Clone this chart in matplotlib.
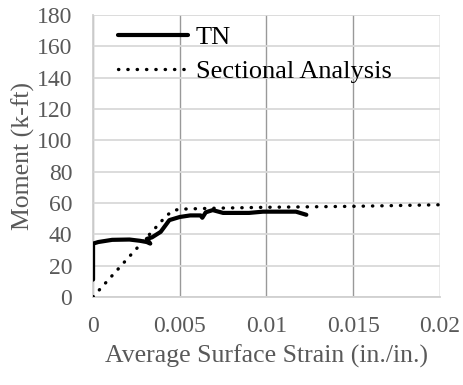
import numpy as np
import matplotlib.pyplot as plt

plt.rcParams['font.family'] = ['Liberation Serif', 'DejaVu Serif']

# TN test curve
tn_strain = [0.0, 0.0, 0.0003, 0.0011, 0.0021, 0.0027, 0.0031, 0.0033, 0.0031, 0.0034,
             0.0039, 0.0044, 0.0050, 0.0056, 0.0062, 0.0063, 0.0065, 0.0069, 0.0075,
             0.0090, 0.0098, 0.0117, 0.0123]
tn_moment = [11, 34, 35, 36.4, 36.6, 35.8, 35.0, 34.0, 37.0, 38.0,
             41.5, 49, 51, 52, 52, 50.5, 54, 55.4, 53.6,
             53.6, 54.4, 54.4, 52.4]

# Sectional analysis curve
sa_strain = [0.0, 0.001, 0.002, 0.003, 0.0038, 0.0042, 0.0046, 0.005, 0.007, 0.01, 0.015, 0.02]
sa_moment = [0.0, 12.3, 24.6, 36.8, 46.5, 51.5, 55.0, 56.0, 56.6, 57.2, 57.8, 58.8]

gray = '#595959'

fig = plt.figure(figsize=(4.63, 3.85), dpi=100)
ax = fig.add_axes([0.201, 0.229, 0.749, 0.732])

ax.plot(tn_strain, tn_moment, color='black', lw=3, solid_capstyle='round',
        solid_joinstyle='round', label='TN', zorder=3)
ax.plot(sa_strain, sa_moment, color='black', lw=2.4, linestyle=(0, (0.1, 2.7)),
        dash_capstyle='round', label='Sectional Analysis', zorder=3)

ax.set_xlim(0, 0.02)
ax.set_ylim(0, 180)
ax.set_xticks([0, 0.005, 0.01, 0.015, 0.02])
ax.set_xticklabels(['0', '0.005', '0.01', '0.015', '0.02'])
ax.set_yticks(np.arange(0, 181, 20))

ax.xaxis.grid(True, color='#999999', lw=1)
ax.yaxis.grid(True, color='#d9d9d9', lw=1.3)
ax.set_axisbelow(True)

for s in ['top', 'right']:
    ax.spines[s].set_visible(False)
for s in ['left', 'bottom']:
    ax.spines[s].set_color('#d0d0d0')
    ax.spines[s].set_linewidth(1.3)

ax.tick_params(length=0, labelsize=17, labelcolor=gray)
ax.tick_params(axis='x', pad=14)
ax.tick_params(axis='y', pad=15)
ax.set_xlabel('Average Surface Strain (in./in.)', fontsize=18.5, color=gray, va='center')
ax.set_ylabel('Moment (k-ft)', fontsize=18.5, color=gray, va='center')
ax.xaxis.set_label_coords(0.5, -0.21)
ax.yaxis.set_label_coords(-0.2, 0.5)

ax.legend(loc='upper left', frameon=False, fontsize=19, handlelength=2.65,
          handletextpad=0.3, borderaxespad=0, borderpad=0, labelspacing=0.39,
          bbox_to_anchor=(0.072, 0.962))

fig.savefig('out.png', dpi=100)
